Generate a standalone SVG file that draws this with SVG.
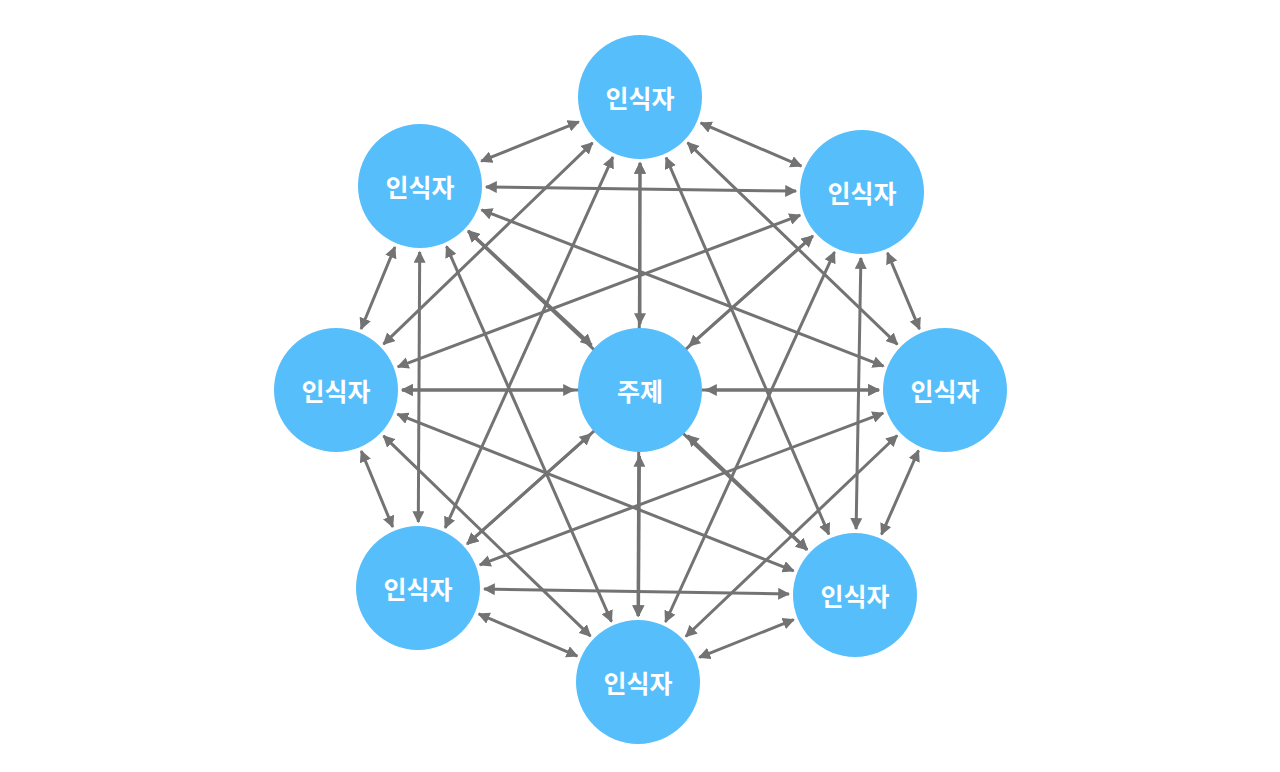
<svg xmlns="http://www.w3.org/2000/svg" width="1280" height="772" viewBox="0 0 1280 772">
<defs>
<marker id="ah" viewBox="0 0 10 10" refX="9" refY="5" markerWidth="4" markerHeight="4" orient="auto-start-reverse" markerUnits="strokeWidth"><path d="M0,0 L10,5 L0,10 z" fill="#737373"/></marker>
<style>
.e{stroke:#737373;stroke-width:3;fill:none;marker-start:url(#ah);marker-end:url(#ah)}
.n{fill:#55BEFB}
.t{fill:#fff;font-family:"Noto Sans CJK KR",sans-serif;font-size:25px;font-weight:bold;text-anchor:middle;dominant-baseline:central}
</style>
</defs>
<rect width="1280" height="772" fill="#fff"/>
<g id="connectors">
<line class="e" x1="578.8" y1="121.8" x2="481.2" y2="161.2"/>
<line class="e" x1="700.7" y1="122.9" x2="801.3" y2="166.1"/>
<line class="e" x1="592.5" y1="142.8" x2="383.5" y2="344.2"/>
<line class="e" x1="687.6" y1="142.7" x2="897.4" y2="344.3"/>
<line class="e" x1="612.8" y1="157.1" x2="445.2" y2="527.9"/>
<line class="e" x1="666.1" y1="157.6" x2="828.9" y2="534.4"/>
<line class="e" x1="640" y1="163" x2="638" y2="616"/>
<line class="e" x1="640" y1="163" x2="640" y2="324"/>
<line class="e" x1="486" y1="186.9" x2="796" y2="191.1"/>
<line class="e" x1="394.9" y1="247" x2="361.1" y2="329"/>
<line class="e" x1="481.5" y1="209.9" x2="883.5" y2="366.1"/>
<line class="e" x1="419.7" y1="252" x2="418.3" y2="522"/>
<line class="e" x1="468.1" y1="231.2" x2="806.9" y2="549.8"/>
<line class="e" x1="446.5" y1="246.4" x2="611.5" y2="621.6"/>
<line class="e" x1="468.4" y1="230.9" x2="591.6" y2="345.1"/>
<line class="e" x1="800.2" y1="215.2" x2="397.8" y2="366.8"/>
<line class="e" x1="887.5" y1="252.9" x2="919.5" y2="329.1"/>
<line class="e" x1="812.7" y1="236" x2="467.3" y2="544"/>
<line class="e" x1="860.9" y1="258" x2="856.1" y2="529"/>
<line class="e" x1="834.5" y1="252" x2="665.5" y2="622"/>
<line class="e" x1="812.8" y1="236" x2="689.2" y2="346"/>
<line class="e" x1="402" y1="390" x2="879" y2="390"/>
<line class="e" x1="361.3" y1="451" x2="392.7" y2="527"/>
<line class="e" x1="397.4" y1="414.2" x2="793.6" y2="570.8"/>
<line class="e" x1="383.5" y1="435.9" x2="590.5" y2="636.1"/>
<line class="e" x1="402" y1="390" x2="574" y2="390"/>
<line class="e" x1="883.2" y1="413.2" x2="479.8" y2="564.8"/>
<line class="e" x1="918.5" y1="450.5" x2="881.5" y2="534.5"/>
<line class="e" x1="897.2" y1="435.5" x2="685.8" y2="636.5"/>
<line class="e" x1="879" y1="390" x2="706" y2="390"/>
<line class="e" x1="484" y1="589" x2="789" y2="594"/>
<line class="e" x1="478.7" y1="613.9" x2="577.3" y2="656.1"/>
<line class="e" x1="467.2" y1="544" x2="590.8" y2="434"/>
<line class="e" x1="793.7" y1="619.6" x2="699.3" y2="657.4"/>
<line class="e" x1="807.2" y1="549.5" x2="687.8" y2="435.5"/>
<line class="e" x1="638.5" y1="616" x2="639.5" y2="456"/>
</g>
<g id="nA"><circle class="n" cx="640" cy="97" r="62"/><text class="t" x="640" y="97">인식자</text></g>
<g id="nB"><circle class="n" cx="420" cy="186" r="62"/><text class="t" x="420" y="186">인식자</text></g>
<g id="nC"><circle class="n" cx="862" cy="192" r="62"/><text class="t" x="862" y="192">인식자</text></g>
<g id="nD"><circle class="n" cx="336" cy="390" r="62"/><text class="t" x="336" y="390">인식자</text></g>
<g id="nO"><circle class="n" cx="640" cy="390" r="62"/><text class="t" x="640" y="390">주제</text></g>
<g id="nE"><circle class="n" cx="945" cy="390" r="62"/><text class="t" x="945" y="390">인식자</text></g>
<g id="nF"><circle class="n" cx="418" cy="588" r="62"/><text class="t" x="418" y="588">인식자</text></g>
<g id="nG"><circle class="n" cx="855" cy="595" r="62"/><text class="t" x="855" y="595">인식자</text></g>
<g id="nH"><circle class="n" cx="638" cy="682" r="62"/><text class="t" x="638" y="682">인식자</text></g>
</svg>
